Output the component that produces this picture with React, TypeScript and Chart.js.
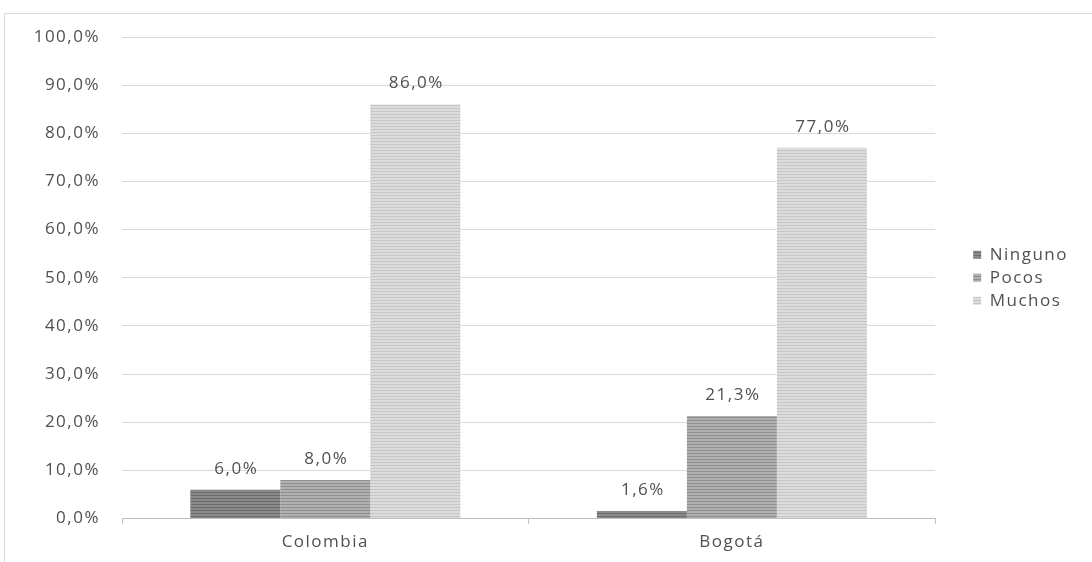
import React, { useEffect, useRef } from "react";
import { Chart, registerables } from "chart.js";

Chart.register(...registerables);

const categories = ["Colombia", "Bogotá"];
const seriesNames = ["Ninguno", "Pocos", "Muchos"];
const ninguno = [6.0, 1.6];
const pocos = [8.0, 21.3];
const muchos = [86.0, 77.0];
const yTicks = [0, 10, 20, 30, 40, 50, 60, 70, 80, 90, 100];

const FONT = "Open Sans";
const FONT_SIZE = 17;
const TEXT_COLOR = "#505050";
const LETTER_SPACING = "1.5px";

function stripe(base: string, line: string): CanvasPattern | string {
  const c = document.createElement("canvas");
  c.width = 4;
  c.height = 3;
  const ctx = c.getContext("2d");
  if (!ctx) return base;
  ctx.fillStyle = base;
  ctx.fillRect(0, 0, 4, 3);
  ctx.fillStyle = line;
  ctx.fillRect(0, 0, 4, 1);
  return ctx.createPattern(c, "repeat") || base;
}

const fmt = (v: number) => v.toFixed(1).replace(".", ",") + "%";

const spacing = {
  id: "spacing",
  beforeUpdate(chart: any) {
    chart.ctx.letterSpacing = LETTER_SPACING;
  },
  afterLayout(chart: any) {
    // centre the legend on the plot area rather than on the whole height
    if (chart.legend) {
      chart.legend.top = chart.chartArea.top;
      chart.legend.bottom = chart.chartArea.bottom;
    }
  },
  beforeDraw(chart: any) {
    chart.ctx.letterSpacing = LETTER_SPACING;
  },
};

const valueLabels = {
  id: "valueLabels",
  afterDatasetsDraw(chart: any) {
    const ctx = chart.ctx;
    ctx.save();
    ctx.font = `${FONT_SIZE}px "${FONT}"`;
    ctx.fillStyle = TEXT_COLOR;
    ctx.textAlign = "center";
    ctx.textBaseline = "middle";
    chart.data.datasets.forEach((ds: any, i: number) => {
      const meta = chart.getDatasetMeta(i);
      meta.data.forEach((bar: any, j: number) => {
        ctx.fillText(fmt(ds.data[j]), bar.x + 1, bar.y - 21);
      });
    });
    ctx.restore();
  },
};

export default function App() {
  const ref = useRef<HTMLCanvasElement>(null);
  useEffect(() => {
    if (!ref.current) return;
    const fills = [
      stripe("#8a8a8a", "#6c6c6c"),
      stripe("#b0b0b0", "#8f8f8f"),
      stripe("#dcdcdc", "#c6c6c6"),
    ];
    const values = [ninguno, pocos, muchos];
    const font = { family: FONT, size: FONT_SIZE };
    const chart = new Chart(ref.current, {
      type: "bar",
      data: {
        labels: categories,
        datasets: seriesNames.map((n, i) => ({
          label: n,
          data: values[i],
          backgroundColor: fills[i] as any,
          borderWidth: 0,
          categoryPercentage: 0.664,
          barPercentage: 1.0,
          yAxisID: "y",
        })),
      },
      options: {
        animation: false,
        responsive: false,
        maintainAspectRatio: false,
        layout: { padding: { top: 37, left: 0, right: 14, bottom: 2 } },
        plugins: {
          tooltip: { enabled: false },
          legend: {
            position: "right",
            labels: {
              boxWidth: 8,
              boxHeight: 8,
              padding: 6,
              color: TEXT_COLOR,
              font,
            },
          },
        },
        scales: {
          x: {
            grid: {
              offset: true,
              drawOnChartArea: false,
              color: "#bfbfbf",
              tickLength: 5,
            },
            border: { color: "#bfbfbf", width: 1 },
            ticks: { color: TEXT_COLOR, font, padding: 8 },
          },
          y: {
            min: 0,
            max: 100,
            afterFit(scale: any) {
              scale.width = 122;
            },
            afterBuildTicks(scale: any) {
              scale.ticks = yTicks.map((v) => ({ value: v }));
            },
            grid: { color: "#d9d9d9", drawTicks: false },
            border: { display: false },
            ticks: {
              color: TEXT_COLOR,
              font,
              padding: 22,
              callback: (v: any) => fmt(Number(v)),
            },
          },
          gap: {
            type: "linear",
            position: "right",
            display: true,
            afterFit(scale: any) {
              scale.width = 32;
            },
            grid: { display: false, drawTicks: false },
            border: { display: false },
            ticks: { display: false },
          },
        },
      },
      plugins: [spacing, valueLabels],
    });
    return () => chart.destroy();
  }, []);
  return (
    <div style={{ position: "fixed", left: 0, top: 0, width: 1092, height: 562, background: "#fff" }}>
      <div
        style={{
          position: "absolute",
          left: 4,
          top: 13,
          right: -2,
          bottom: -2,
          border: "1px solid #d9d9d9",
        }}
      />
      <canvas ref={ref} width={1092} height={562} style={{ position: "absolute", left: 0, top: 0 }} />
    </div>
  );
}
